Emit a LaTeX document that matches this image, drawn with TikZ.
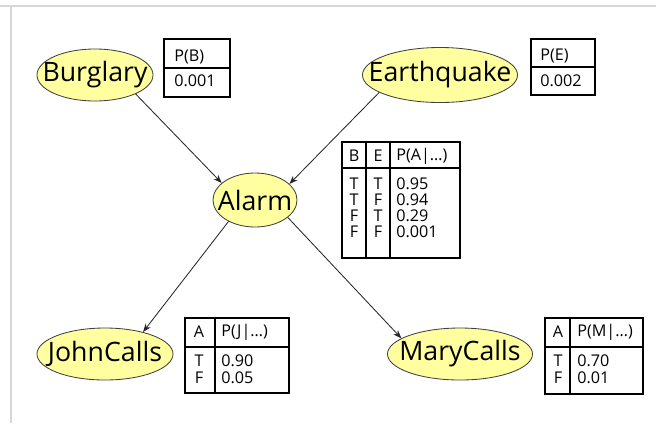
\documentclass[tikz,border=0pt]{standalone}
\usepackage{fontspec}
\setmainfont{Open Sans}
\usetikzlibrary{shapes.geometric,arrows.meta}
\definecolor{nodeyellow}{RGB}{255,255,160}
\definecolor{pagegrey}{RGB}{215,215,215}
\begin{document}
\begin{tikzpicture}[x=0.025cm, y=-0.025cm,
    var/.style={ellipse, draw=black!75, fill=nodeyellow, line width=0.6pt, minimum height=1.3cm, inner sep=0pt},
    varlabel/.style={font=\fontsize{19}{21}\selectfont, inner sep=0pt},
    arrow/.style={-{Stealth[length=6pt,width=4.5pt]}, line width=0.6pt, black!85},
    tblframe/.style={line width=2pt},
    tblrule/.style={line width=0.8pt},
    cell/.style={anchor=west, inner sep=0pt, font=\fontsize{11.5}{13}\selectfont},
    ccell/.style={cell, anchor=center}
]
    \useasboundingbox (0,0) rectangle (656,423);
    \draw[pagegrey, line width=0.8pt] (0,6) -- (656,6) (11,6) -- (11,423);

    % variables
    \node[var, minimum width=2.9cm, label={[varlabel]center:Burglary}] (burglary) at (95,75) {};
    \node[var, minimum width=3.875cm, minimum height=1.375cm, label={[varlabel]center:Earthquake}] (earthquake) at (440,75) {};
    \node[var, minimum width=2.1cm, minimum height=1.35cm, label={[varlabel]center:Alarm}] (alarm) at (255,200) {};
    \node[var, minimum width=3.4cm, label={[varlabel]center:JohnCalls}] (johncalls) at (105,354) {};
    \node[var, minimum width=3.625cm, label={[varlabel]center:MaryCalls}] (marycalls) at (460,354) {};

    \draw[arrow] (burglary.-25) -- (alarm.153);
    \draw[arrow] (earthquake.-164) -- (alarm.25);
    \draw[arrow] (alarm.-141) -- (johncalls.30);
    \draw[arrow] (alarm.-28) -- (marycalls.165);

    % P(B)
    \draw[tblrule] (164,68) -- (230,68);
    \draw[tblframe] (164,39) rectangle (230,97);
    \node[cell] (pbhead) at (174,57) {P(B)};
    \node[cell] (pbval) at (174,81) {0.001};

    % P(E)
    \draw[tblrule] (531,67) -- (595,67);
    \draw[tblframe] (531,39) rectangle (595,95);
    \node[cell] (pehead) at (540,56) {P(E)};
    \node[cell] (peval) at (540,81) {0.002};

    % P(A|B,E)
    \draw[tblrule] (342,168) -- (460,168) (366,142) -- (366,258) (390,142) -- (390,258);
    \draw[tblframe] (342,142) rectangle (460,258);
    \node[ccell] (pab) at (354,156) {B};
    \node[ccell] (pae) at (378,156) {E};
    \node[cell] (pahead) at (396,156) {P(A|…)};
    \foreach \b/\e/\p [count=\i] in {T/T/0.95, T/F/0.94, F/T/0.29, F/F/0.001} {
        \node[ccell] (pab\i) at (354,168+16*\i) {\b};
        \node[ccell] (pae\i) at (378,168+16*\i) {\e};
        \node[cell] (pa\i) at (396,168+16*\i) {\p};
    }

    % P(J|A)
    \draw[tblrule] (185,347) -- (289,347) (215,318) -- (215,393);
    \draw[tblframe] (185,318) rectangle (289,393);
    \node[ccell] (pja) at (199,332) {A};
    \node[cell] (pjhead) at (221,332) {P(J|…)};
    \node[ccell] (pja1) at (199,361) {T};
    \node[cell] (pj1) at (221,361) {0.90};
    \node[ccell] (pja2) at (199,378) {F};
    \node[cell] (pj2) at (221,378) {0.05};

    % P(M|A)
    \draw[tblrule] (545,347) -- (643,347) (570,318) -- (570,394);
    \draw[tblframe] (545,318) rectangle (643,394);
    \node[ccell] (pma) at (558,332) {A};
    \node[cell] (pmhead) at (577,332) {P(M|…)};
    \node[ccell] (pma1) at (558,361) {T};
    \node[cell] (pm1) at (577,361) {0.70};
    \node[ccell] (pma2) at (558,378) {F};
    \node[cell] (pm2) at (577,378) {0.01};
\end{tikzpicture}
\end{document}
